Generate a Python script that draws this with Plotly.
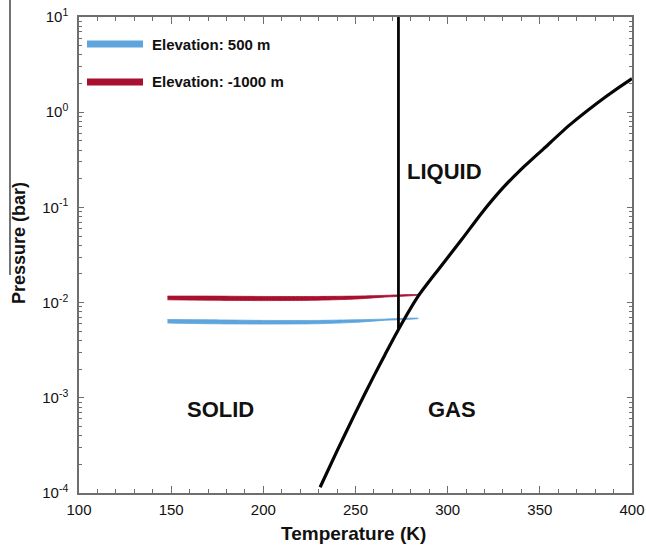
import math
import plotly.graph_objects as go

# ---- data ----
# solid/gas + liquid/gas coexistence curve
curve_T = [230.8, 240, 250, 260, 266, 273.3, 284.1, 295.0, 307.6,
           318.5, 330.2, 339.3, 352, 366.4, 386.3, 399, 400]
curve_P = [1.15e-4, 2.77e-4, 6.98e-4, 1.70e-3, 2.84e-3, 5.22e-3, 1.175e-2, 2.23e-2,
           4.59e-2, 8.75e-2, 0.162, 0.245, 0.412, 0.74, 1.48, 2.19, 2.25]

# solid/liquid (melting) line
melt_T = [273.3, 273.3]
melt_P = [5.3e-3, 10]

# elevation bands (upper / lower edges)
band_T = [148, 170, 200, 230, 250, 265, 284]
blue_upper = [6.65e-3, 6.6e-3, 6.5e-3, 6.5e-3, 6.6e-3, 6.7e-3, 6.85e-3]
blue_lower = [6.1e-3, 6.0e-3, 5.95e-3, 6.0e-3, 6.2e-3, 6.5e-3, 6.8e-3]
red_upper = [1.17e-2, 1.17e-2, 1.16e-2, 1.16e-2, 1.17e-2, 1.19e-2, 1.21e-2]
red_lower = [1.07e-2, 1.06e-2, 1.05e-2, 1.06e-2, 1.09e-2, 1.14e-2, 1.20e-2]

series_names = ["Elevation: 500 m", "Elevation: -1000 m"]
series_colors = ["#5DA5DC", "#A8102F"]

region_labels = ["LIQUID", "SOLID", "GAS"]
region_T = [298.4, 176.5, 302.4]
region_P = [0.239, 7.47e-4, 7.47e-4]

y_tickvals = [1e-4, 1e-3, 1e-2, 1e-1, 1e0, 1e1]
y_ticktext = ["10<sup>-4</sup>", "10<sup>-3</sup>", "10<sup>-2</sup>",
              "10<sup>-1</sup>", "10<sup>0</sup>", "10<sup>1</sup>"]
y_minor = [k * 10.0 ** e for e in range(-4, 1) for k in range(2, 10)]
x_tickvals = [100, 150, 200, 250, 300, 350, 400]

FONT = "Liberation Sans, Arial, Helvetica, sans-serif"

fig = go.Figure()

for upper, lower, color, name in [(blue_upper, blue_lower, series_colors[0], series_names[0]),
                                  (red_upper, red_lower, series_colors[1], series_names[1])]:
    fig.add_trace(go.Scatter(
        x=band_T + band_T[::-1], y=upper + lower[::-1],
        fill="toself", fillcolor=color, mode="lines",
        line=dict(color=color, width=0.8, shape="spline", smoothing=0.6),
        name=name, showlegend=False, hoverinfo="skip"))

fig.add_trace(go.Scatter(x=curve_T, y=curve_P, mode="lines",
                         line=dict(color="#050505", width=3.2, shape="spline", smoothing=0.6),
                         showlegend=False))
fig.add_trace(go.Scatter(x=melt_T, y=melt_P, mode="lines",
                         line=dict(color="#050505", width=2.8),
                         showlegend=False, cliponaxis=False))

for lab, t, p in zip(region_labels, region_T, region_P):
    fig.add_annotation(x=t, y=math.log10(p), xref="x", yref="y", text=lab,
                       showarrow=False, xanchor="center", yanchor="middle",
                       font=dict(family=FONT, size=22, color="#111111", weight="bold"))

# legend drawn as lines + text in paper space
PW, PH = 553.0, 476.0
def px_x(px):
    return (px - 79) / PW
def px_y(py):
    return (493 - py) / PH

for i, (name, color) in enumerate(zip(series_names, series_colors)):
    yy = px_y(44 + 38 * i)
    fig.add_shape(type="line", xref="paper", yref="paper",
                  x0=px_x(87), x1=px_x(143), y0=yy, y1=yy,
                  line=dict(color=color, width=7))
    fig.add_annotation(x=px_x(150), y=yy, xref="paper", yref="paper", text=name,
                       showarrow=False, xanchor="left", yanchor="middle",
                       font=dict(family=FONT, size=15, color="#111111", weight="bold"))

# stray vertical rule on the far left of the original figure
fig.add_shape(type="line", xref="paper", yref="paper",
              x0=px_x(10), x1=px_x(10), y0=px_y(0), y1=px_y(275),
              line=dict(color="#444444", width=1.5))

# axis titles
fig.add_annotation(x=px_x(353), y=px_y(533), xref="paper", yref="paper",
                   text="Temperature (K)", showarrow=False,
                   xanchor="center", yanchor="middle",
                   font=dict(family=FONT, size=19, color="#111111", weight="bold"))
fig.add_annotation(x=px_x(19), y=px_y(243), xref="paper", yref="paper",
                   text="Pressure (bar)", showarrow=False, textangle=-90,
                   xanchor="center", yanchor="middle",
                   font=dict(family=FONT, size=18, color="#111111", weight="bold"))

axis_common = dict(showline=True, linecolor="#6e6e6e", linewidth=1.5, mirror="ticks",
                   ticks="inside", tickcolor="#6e6e6e", showgrid=False, zeroline=False,
                   automargin=False,
                   tickfont=dict(family=FONT, size=15, color="#111111"))

fig.update_xaxes(range=[100, 400], tickmode="array", tickvals=x_tickvals,
                 ticklen=7, tickwidth=1.2, ticklabelstandoff=2,
                 minor=dict(dtick=10, ticks="inside", ticklen=4, tickcolor="#6e6e6e",
                            tickwidth=1, showgrid=False),
                 **axis_common)
fig.update_yaxes(type="log", range=[-4, 1], tickmode="array", tickvals=y_tickvals,
                 ticktext=y_ticktext, ticklen=5, tickwidth=1.2, ticklabelstandoff=6,
                 minor=dict(tickmode="array", tickvals=y_minor, ticks="inside", ticklen=3,
                            tickcolor="#6e6e6e", tickwidth=1, showgrid=False),
                 **axis_common)

fig.update_layout(width=646, height=549, margin=dict(l=79, r=14, t=17, b=56),
                  paper_bgcolor="white", plot_bgcolor="white", showlegend=False,
                  font=dict(family=FONT, color="#111111"))

fig.write_html("out.html")
